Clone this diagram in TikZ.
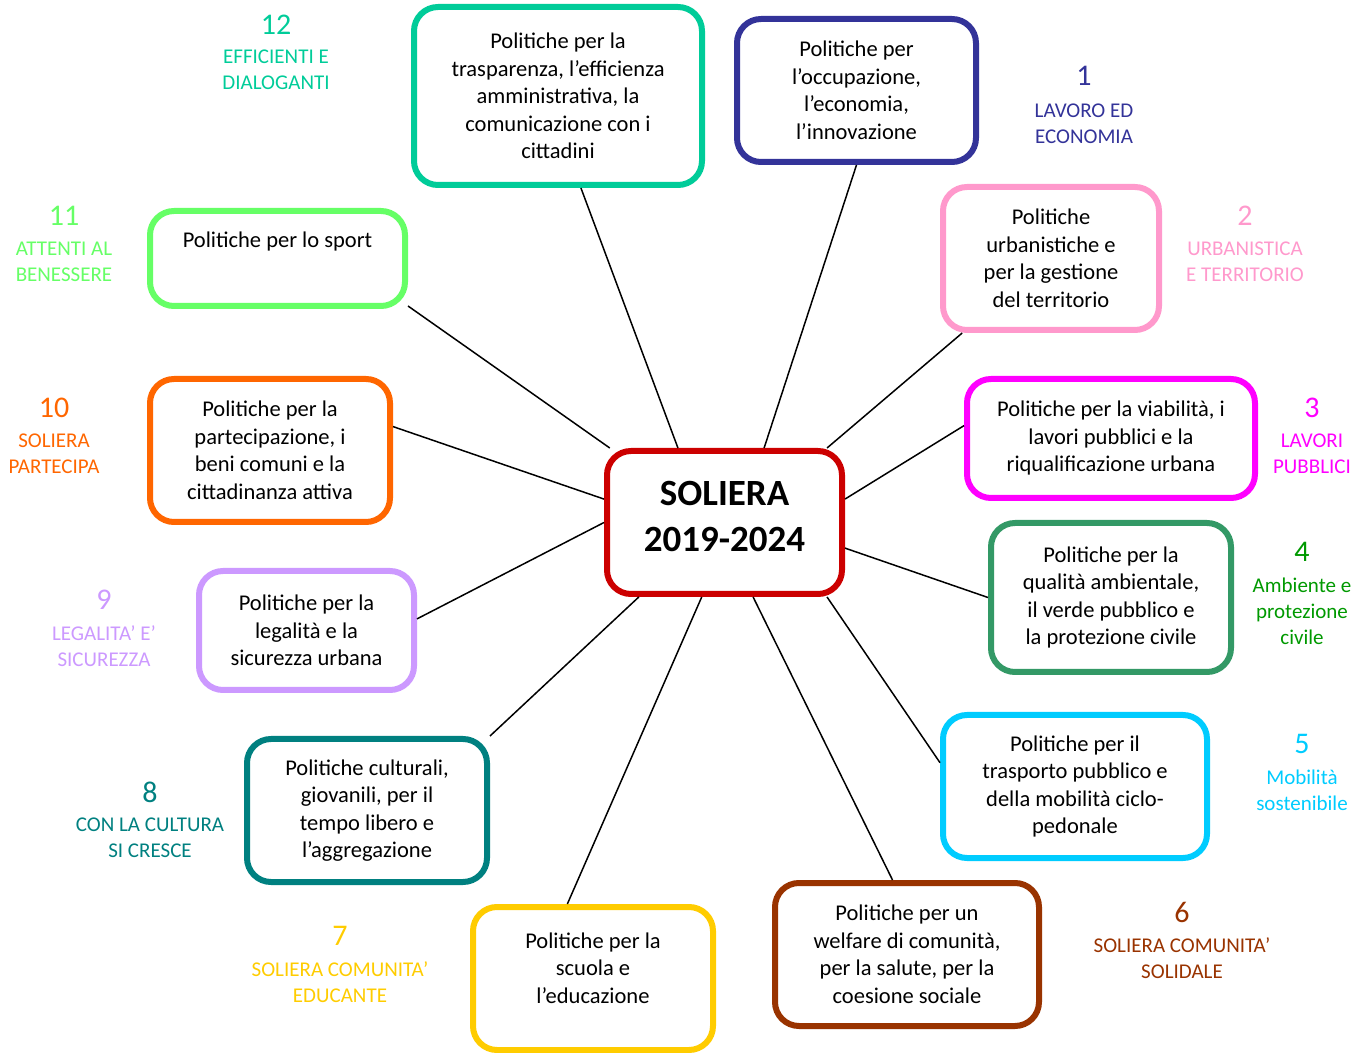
\documentclass[tikz,border=0pt]{standalone}
\usepackage{fontspec}
\setmainfont{Carlito}
\usetikzlibrary{positioning}

\definecolor{rossoc}{HTML}{CC0000}
\definecolor{col1}{HTML}{333399}
\definecolor{col2}{HTML}{FF99CC}
\definecolor{col3}{HTML}{FF00FF}
\definecolor{col4}{HTML}{339966}
\definecolor{col4t}{HTML}{009900}
\definecolor{col5}{HTML}{00CCFF}
\definecolor{col6}{HTML}{993300}
\definecolor{col7}{HTML}{FFCC00}
\definecolor{col8}{HTML}{008080}
\definecolor{col9}{HTML}{CC99FF}
\definecolor{col10}{HTML}{FF6600}
\definecolor{col11}{HTML}{66FF66}
\definecolor{col12}{HTML}{00CC99}

\tikzset{
  box/.style={draw=#1, line width=3pt, rounded corners=12pt, fill=white,
    align=center, inner sep=0pt, font=\fontsize{11.25}{13.75}\selectfont},
  num/.style={text=#1, inner sep=0pt, font=\fontsize{15}{18}\selectfont},
  tag/.style={text=#1, inner sep=0pt, align=center,
    font=\fontsize{10.5}{13}\selectfont},
  link/.style={line width=0.75pt},
}

\begin{document}
\begin{tikzpicture}[x=0.5pt, y=-0.5pt]
    \useasboundingbox (0,0) rectangle (1367,1053);

    % centre
    \path (724.5,522.5) node [box=rossoc, minimum width=117.5pt, minimum height=71.5pt,
	text depth=6pt, font=\bfseries\fontsize{18.5}{23}\selectfont] (c) {SOLIERA\\2019-2024};

    % boxes
    \path (558,96) node [box=col12, minimum width=144pt, minimum height=89pt] (b12)
	{Politiche per la\\trasparenza, l’efficienza\\amministrativa, la\\comunicazione con i\\cittadini};
    \path (856.5,90.5) node [box=col1, minimum width=119.5pt, minimum height=71.5pt] (b1)
	{Politiche per\\l’occupazione,\\l’economia,\\l’innovazione};
    \path (1051,258.5) node [box=col2, minimum width=108pt, minimum height=71.5pt] (b2)
	{Politiche\\urbanistiche e\\per la gestione\\del territorio};
    \path (1111,438.5) node [box=col3, minimum width=144pt, minimum height=59.5pt] (b3)
	{Politiche per la viabilità, i\\lavori pubblici e la\\riqualificazione urbana};
    \path (1111,597.5) node [box=col4, minimum width=120pt, minimum height=74.5pt] (b4)
	{Politiche per la\\qualità ambientale,\\il verde pubblico e\\la protezione civile};
    \path (1075,786.5) node [box=col5, minimum width=132pt, minimum height=71.5pt] (b5)
	{Politiche per il\\trasporto pubblico e\\della mobilità ciclo-\\pedonale};
    \path (907,954.5) node [box=col6, minimum width=132pt, minimum height=71.5pt] (b6)
	{Politiche per un\\welfare di comunità,\\per la salute, per la\\coesione sociale};
    \path (593,978.5) node [box=col7, minimum width=120pt, minimum height=71.5pt,
	text depth=10.5pt] (b7)
	{Politiche per la\\scuola e\\l’educazione};
    \path (367,810.5) node [box=col8, minimum width=120pt, minimum height=71.5pt] (b8)
	{Politiche culturali,\\giovanili, per il\\tempo libero e\\l’aggregazione};
    \path (306.5,630.5) node [box=col9, minimum width=107.5pt, minimum height=59.5pt] (b9)
	{Politiche per la\\legalità e la\\sicurezza urbana};
    \path (270,450.5) node [box=col10, minimum width=120pt, minimum height=71.5pt] (b10)
	{Politiche per la\\partecipazione, i\\beni comuni e la\\cittadinanza attiva};
    \path (277.5,258.5) node [box=col11, minimum width=127.5pt, minimum height=47.5pt,
	text depth=18.5pt] (b11)
	{Politiche per lo sport};

    % links
    \draw [link] (c.122) -- (b12.284);
    \draw [link] (c.62) -- (b1.south);
    \draw [link] (c.36) -- (b2.220);
    \draw [link] (c.11) -- (b3.175);
    \draw [link] (c.348) -- (b4.west);
    \draw [link] (c.324) -- (b5.170);
    \draw [link] (c.291) -- (b6.101);
    \draw [link] (c.253) -- (b7.109);
    \draw [link] (c.221) -- (b8.north east);
    \draw [link] (c.west) -- (b9.6);
    \draw [link] (c.169) -- (b10.11);
    \draw [link] (c.147) -- (b11.340);

    % labels
    \path (1084,76) node [num=col1] (n1) {1};
    \path (1084,124) node [tag=col1] (t1) {LAVORO ED\\ECONOMIA};
    \path (1245,216) node [num=col2] (n2) {2};
    \path (1245,262) node [tag=col2] (t2) {URBANISTICA\\E TERRITORIO};
    \path (1312,408) node [num=col3] (n3) {3};
    \path (1312,454) node [tag=col3] (t3) {LAVORI\\PUBBLICI};
    \path (1302,552) node [num=col4t] (n4) {4};
    \path (1302,611) node [tag=col4t] (t4) {Ambiente e\\protezione\\civile};
    \path (1302,744) node [num=col5] (n5) {5};
    \path (1302,790) node [tag=col5] (t5) {Mobilità\\sostenibile};
    \path (1182,912) node [num=col6] (n6) {6};
    \path (1182,958) node [tag=col6] (t6) {SOLIERA COMUNITA’\\SOLIDALE};
    \path (340,936) node [num=col7] (n7) {7};
    \path (340,982) node [tag=col7] (t7) {SOLIERA COMUNITA’\\EDUCANTE};
    \path (150,792) node [num=col8] (n8) {8};
    \path (150,838) node [tag=col8] (t8) {CON LA CULTURA\\SI CRESCE};
    \path (104,600) node [num=col9] (n9) {9};
    \path (104,646) node [tag=col9] (t9) {LEGALITA’ E’\\SICUREZZA};
    \path (54,408) node [num=col10] (n10) {10};
    \path (54,454) node [tag=col10] (t10) {SOLIERA\\PARTECIPA};
    \path (64,216) node [num=col11] (n11) {11};
    \path (64,262) node [tag=col11] (t11) {ATTENTI AL\\BENESSERE};
    \path (276,25) node [num=col12] (n12) {12};
    \path (276,70) node [tag=col12] (t12) {EFFICIENTI E\\DIALOGANTI};
\end{tikzpicture}
\end{document}
